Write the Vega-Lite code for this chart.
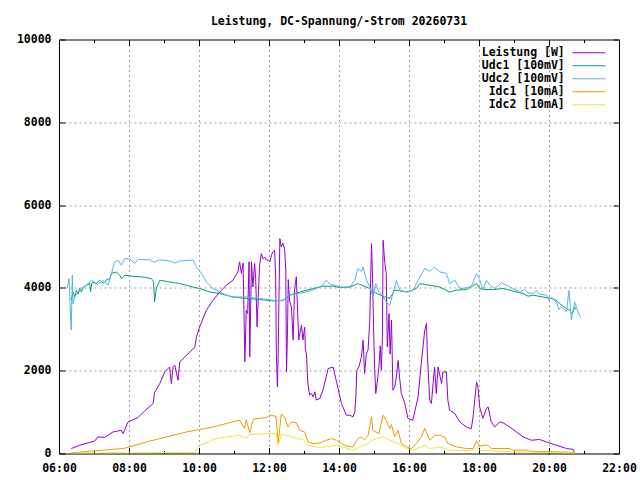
{
"$schema": "https://vega.github.io/schema/vega-lite/v6.json",
"width": 560, "height": 414,
"autosize": {"type": "none"},
"padding": {"left": 59, "top": 39.5, "right": 21, "bottom": 26.5},
"background": "white",
"config": {"view": {"stroke": "black", "strokeWidth": 1}, "font": "DejaVu Sans Mono"},
"title": {"text": "Leistung, DC-Spannung/-Strom 20260731", "font": "DejaVu Sans Mono", "fontSize": 11.5, "fontWeight": "bold", "color": "black", "offset": 6},
"data": {"values": [
{"t":6.35,"k":"P","v":120},{"t":6.59,"k":"P","v":200},{"t":7.02,"k":"P","v":300},{"t":7.11,"k":"P","v":400},{"t":7.31,"k":"P","v":390},{"t":7.54,"k":"P","v":520},{"t":7.78,"k":"P","v":560},{"t":7.83,"k":"P","v":480},{"t":7.97,"k":"P","v":760},{"t":8.26,"k":"P","v":870},{"t":8.35,"k":"P","v":950},{"t":8.69,"k":"P","v":1210},{"t":8.73,"k":"P","v":1470},{"t":8.88,"k":"P","v":1690},{"t":9.02,"k":"P","v":1970},{"t":9.16,"k":"P","v":2090},{"t":9.21,"k":"P","v":1690},{"t":9.26,"k":"P","v":2100},{"t":9.31,"k":"P","v":2130},{"t":9.40,"k":"P","v":1770},{"t":9.45,"k":"P","v":2210},{"t":9.88,"k":"P","v":2570},{"t":9.93,"k":"P","v":2820},{"t":10.02,"k":"P","v":3060},{"t":10.21,"k":"P","v":3460},{"t":10.40,"k":"P","v":3700},{"t":10.59,"k":"P","v":3900},{"t":10.78,"k":"P","v":4065},{"t":10.97,"k":"P","v":4185},{"t":11.11,"k":"P","v":4385},{"t":11.16,"k":"P","v":4630},{"t":11.21,"k":"P","v":4350},{"t":11.26,"k":"P","v":4600},{"t":11.31,"k":"P","v":2210},{"t":11.35,"k":"P","v":3460},{"t":11.39,"k":"P","v":3380},{"t":11.43,"k":"P","v":4630},{"t":11.45,"k":"P","v":2335},{"t":11.50,"k":"P","v":4630},{"t":11.54,"k":"P","v":4020},{"t":11.59,"k":"P","v":4590},{"t":11.62,"k":"P","v":4200},{"t":11.66,"k":"P","v":3060},{"t":11.73,"k":"P","v":4550},{"t":11.78,"k":"P","v":4830},{"t":11.83,"k":"P","v":4700},{"t":11.88,"k":"P","v":4740},{"t":11.93,"k":"P","v":4670},{"t":11.97,"k":"P","v":4670},{"t":12.02,"k":"P","v":4630},{"t":12.07,"k":"P","v":4790},{"t":12.11,"k":"P","v":4870},{"t":12.16,"k":"P","v":4910},{"t":12.19,"k":"P","v":4300},{"t":12.21,"k":"P","v":2415},{"t":12.24,"k":"P","v":1610},{"t":12.26,"k":"P","v":2300},{"t":12.31,"k":"P","v":5190},{"t":12.35,"k":"P","v":4990},{"t":12.40,"k":"P","v":5080},{"t":12.45,"k":"P","v":4910},{"t":12.48,"k":"P","v":4400},{"t":12.50,"k":"P","v":1970},{"t":12.53,"k":"P","v":3000},{"t":12.55,"k":"P","v":4200},{"t":12.59,"k":"P","v":3680},{"t":12.64,"k":"P","v":3540},{"t":12.69,"k":"P","v":2740},{"t":12.73,"k":"P","v":3950},{"t":12.78,"k":"P","v":4270},{"t":12.81,"k":"P","v":3600},{"t":12.85,"k":"P","v":2740},{"t":12.88,"k":"P","v":2900},{"t":12.93,"k":"P","v":3100},{"t":12.97,"k":"P","v":2740},{"t":13.02,"k":"P","v":3050},{"t":13.04,"k":"P","v":2500},{"t":13.07,"k":"P","v":2415},{"t":13.11,"k":"P","v":1690},{"t":13.16,"k":"P","v":1410},{"t":13.21,"k":"P","v":1450},{"t":13.26,"k":"P","v":1370},{"t":13.31,"k":"P","v":1490},{"t":13.35,"k":"P","v":1290},{"t":13.45,"k":"P","v":1330},{"t":13.54,"k":"P","v":1530},{"t":13.69,"k":"P","v":2050},{"t":13.83,"k":"P","v":2090},{"t":13.93,"k":"P","v":1730},{"t":14.07,"k":"P","v":1210},{"t":14.21,"k":"P","v":925},{"t":14.31,"k":"P","v":925},{"t":14.40,"k":"P","v":885},{"t":14.45,"k":"P","v":1000},{"t":14.48,"k":"P","v":1330},{"t":14.51,"k":"P","v":2010},{"t":14.57,"k":"P","v":2090},{"t":14.64,"k":"P","v":2335},{"t":14.69,"k":"P","v":2740},{"t":14.73,"k":"P","v":1930},{"t":14.78,"k":"P","v":2400},{"t":14.83,"k":"P","v":2500},{"t":14.88,"k":"P","v":3220},{"t":14.91,"k":"P","v":4430},{"t":14.93,"k":"P","v":5070},{"t":14.96,"k":"P","v":4200},{"t":14.99,"k":"P","v":2980},{"t":15.02,"k":"P","v":2010},{"t":15.05,"k":"P","v":1450},{"t":15.09,"k":"P","v":1700},{"t":15.14,"k":"P","v":2090},{"t":15.18,"k":"P","v":2600},{"t":15.21,"k":"P","v":2010},{"t":15.24,"k":"P","v":2800},{"t":15.26,"k":"P","v":5150},{"t":15.31,"k":"P","v":4590},{"t":15.35,"k":"P","v":4350},{"t":15.38,"k":"P","v":2575},{"t":15.43,"k":"P","v":3380},{"t":15.46,"k":"P","v":2400},{"t":15.50,"k":"P","v":3220},{"t":15.54,"k":"P","v":1530},{"t":15.59,"k":"P","v":1600},{"t":15.64,"k":"P","v":1850},{"t":15.69,"k":"P","v":2250},{"t":15.73,"k":"P","v":1850},{"t":15.78,"k":"P","v":1450},{"t":15.83,"k":"P","v":1330},{"t":15.88,"k":"P","v":1210},{"t":15.97,"k":"P","v":845},{"t":16.11,"k":"P","v":805},{"t":16.26,"k":"P","v":1370},{"t":16.35,"k":"P","v":2170},{"t":16.45,"k":"P","v":2980},{"t":16.50,"k":"P","v":3140},{"t":16.52,"k":"P","v":2500},{"t":16.59,"k":"P","v":1290},{"t":16.64,"k":"P","v":1210},{"t":16.73,"k":"P","v":2090},{"t":16.78,"k":"P","v":1450},{"t":16.83,"k":"P","v":2090},{"t":16.93,"k":"P","v":1690},{"t":16.97,"k":"P","v":1970},{"t":17.07,"k":"P","v":1970},{"t":17.11,"k":"P","v":1290},{"t":17.16,"k":"P","v":1045},{"t":17.31,"k":"P","v":965},{"t":17.45,"k":"P","v":765},{"t":17.64,"k":"P","v":640},{"t":17.78,"k":"P","v":600},{"t":17.83,"k":"P","v":885},{"t":17.93,"k":"P","v":1730},{"t":17.97,"k":"P","v":1600},{"t":18.02,"k":"P","v":1125},{"t":18.11,"k":"P","v":845},{"t":18.21,"k":"P","v":1085},{"t":18.26,"k":"P","v":1125},{"t":18.35,"k":"P","v":765},{"t":18.45,"k":"P","v":640},{"t":18.59,"k":"P","v":765},{"t":18.69,"k":"P","v":740},{"t":18.88,"k":"P","v":640},{"t":19.07,"k":"P","v":520},{"t":19.26,"k":"P","v":400},{"t":19.50,"k":"P","v":320},{"t":19.73,"k":"P","v":340},{"t":19.97,"k":"P","v":265},{"t":20.21,"k":"P","v":200},{"t":20.50,"k":"P","v":120},{"t":20.69,"k":"P","v":100},{"t":20.73,"k":"P","v":15},
{"t":6.35,"k":"U1","v":3700},{"t":6.40,"k":"U1","v":3900},{"t":6.45,"k":"U1","v":3780},{"t":6.50,"k":"U1","v":3945},{"t":6.55,"k":"U1","v":3850},{"t":6.59,"k":"U1","v":3985},{"t":6.64,"k":"U1","v":3900},{"t":6.69,"k":"U1","v":4010},{"t":6.78,"k":"U1","v":4060},{"t":6.88,"k":"U1","v":4105},{"t":6.90,"k":"U1","v":3900},{"t":6.93,"k":"U1","v":4100},{"t":6.97,"k":"U1","v":4145},{"t":7.05,"k":"U1","v":4100},{"t":7.16,"k":"U1","v":4185},{"t":7.26,"k":"U1","v":4120},{"t":7.35,"k":"U1","v":4185},{"t":7.45,"k":"U1","v":4230},{"t":7.50,"k":"U1","v":4350},{"t":7.64,"k":"U1","v":4385},{"t":7.74,"k":"U1","v":4300},{"t":7.78,"k":"U1","v":4225},{"t":7.88,"k":"U1","v":4305},{"t":8.11,"k":"U1","v":4280},{"t":8.40,"k":"U1","v":4265},{"t":8.64,"k":"U1","v":4225},{"t":8.70,"k":"U1","v":4150},{"t":8.73,"k":"U1","v":3660},{"t":8.78,"k":"U1","v":3985},{"t":8.88,"k":"U1","v":4185},{"t":9.16,"k":"U1","v":4145},{"t":9.45,"k":"U1","v":4105},{"t":9.73,"k":"U1","v":4040},{"t":10.02,"k":"U1","v":3985},{"t":10.31,"k":"U1","v":3900},{"t":10.59,"k":"U1","v":3865},{"t":10.97,"k":"U1","v":3780},{"t":11.35,"k":"U1","v":3745},{"t":11.73,"k":"U1","v":3720},{"t":12.11,"k":"U1","v":3685},{"t":12.40,"k":"U1","v":3700},{"t":12.59,"k":"U1","v":3825},{"t":12.88,"k":"U1","v":3900},{"t":13.26,"k":"U1","v":3985},{"t":13.54,"k":"U1","v":4040},{"t":13.83,"k":"U1","v":4040},{"t":14.02,"k":"U1","v":4010},{"t":14.31,"k":"U1","v":4020},{"t":14.54,"k":"U1","v":4105},{"t":14.88,"k":"U1","v":3985},{"t":14.99,"k":"U1","v":3900},{"t":15.31,"k":"U1","v":3780},{"t":15.45,"k":"U1","v":3745},{"t":15.59,"k":"U1","v":3945},{"t":15.73,"k":"U1","v":3930},{"t":15.97,"k":"U1","v":3900},{"t":16.21,"k":"U1","v":3985},{"t":16.31,"k":"U1","v":4105},{"t":16.59,"k":"U1","v":4065},{"t":16.88,"k":"U1","v":4020},{"t":17.16,"k":"U1","v":3900},{"t":17.35,"k":"U1","v":3945},{"t":17.64,"k":"U1","v":3960},{"t":17.93,"k":"U1","v":4105},{"t":18.02,"k":"U1","v":3985},{"t":18.11,"k":"U1","v":3960},{"t":18.40,"k":"U1","v":3960},{"t":18.69,"k":"U1","v":3985},{"t":18.97,"k":"U1","v":3925},{"t":19.26,"k":"U1","v":3865},{"t":19.40,"k":"U1","v":3800},{"t":19.54,"k":"U1","v":3825},{"t":19.83,"k":"U1","v":3780},{"t":20.07,"k":"U1","v":3745},{"t":20.20,"k":"U1","v":3700},{"t":20.31,"k":"U1","v":3620},{"t":20.40,"k":"U1","v":3560},{"t":20.50,"k":"U1","v":3500},{"t":20.59,"k":"U1","v":3460},{"t":20.66,"k":"U1","v":3380},{"t":20.73,"k":"U1","v":3540},{"t":20.76,"k":"U1","v":3480},
{"t":6.23,"k":"U2","v":3985},{"t":6.29,"k":"U2","v":4225},{"t":6.33,"k":"U2","v":3300},{"t":6.35,"k":"U2","v":2980},{"t":6.38,"k":"U2","v":4305},{"t":6.40,"k":"U2","v":3620},{"t":6.45,"k":"U2","v":3800},{"t":6.54,"k":"U2","v":3865},{"t":6.64,"k":"U2","v":3985},{"t":6.78,"k":"U2","v":4065},{"t":6.93,"k":"U2","v":4185},{"t":7.10,"k":"U2","v":4080},{"t":7.26,"k":"U2","v":4185},{"t":7.40,"k":"U2","v":4065},{"t":7.50,"k":"U2","v":4350},{"t":7.59,"k":"U2","v":4630},{"t":7.69,"k":"U2","v":4670},{"t":7.78,"k":"U2","v":4550},{"t":7.88,"k":"U2","v":4710},{"t":8.02,"k":"U2","v":4700},{"t":8.16,"k":"U2","v":4590},{"t":8.26,"k":"U2","v":4685},{"t":8.59,"k":"U2","v":4680},{"t":8.70,"k":"U2","v":4620},{"t":8.88,"k":"U2","v":4680},{"t":9.16,"k":"U2","v":4650},{"t":9.30,"k":"U2","v":4600},{"t":9.45,"k":"U2","v":4650},{"t":9.83,"k":"U2","v":4670},{"t":9.93,"k":"U2","v":4505},{"t":10.07,"k":"U2","v":4350},{"t":10.21,"k":"U2","v":4145},{"t":10.40,"k":"U2","v":3985},{"t":10.59,"k":"U2","v":3900},{"t":10.78,"k":"U2","v":3825},{"t":10.97,"k":"U2","v":3780},{"t":11.35,"k":"U2","v":3780},{"t":11.73,"k":"U2","v":3745},{"t":12.11,"k":"U2","v":3700},{"t":12.40,"k":"U2","v":3690},{"t":12.59,"k":"U2","v":3825},{"t":12.88,"k":"U2","v":3870},{"t":13.26,"k":"U2","v":3945},{"t":13.54,"k":"U2","v":4065},{"t":13.64,"k":"U2","v":4185},{"t":13.73,"k":"U2","v":4100},{"t":14.02,"k":"U2","v":4020},{"t":14.31,"k":"U2","v":4020},{"t":14.45,"k":"U2","v":4185},{"t":14.54,"k":"U2","v":4470},{"t":14.64,"k":"U2","v":4400},{"t":14.69,"k":"U2","v":4505},{"t":14.78,"k":"U2","v":4200},{"t":14.88,"k":"U2","v":4020},{"t":14.97,"k":"U2","v":3780},{"t":15.05,"k":"U2","v":4100},{"t":15.14,"k":"U2","v":3900},{"t":15.21,"k":"U2","v":3850},{"t":15.35,"k":"U2","v":3660},{"t":15.45,"k":"U2","v":3580},{"t":15.54,"k":"U2","v":3865},{"t":15.64,"k":"U2","v":4185},{"t":15.73,"k":"U2","v":3950},{"t":15.93,"k":"U2","v":3900},{"t":16.11,"k":"U2","v":3945},{"t":16.31,"k":"U2","v":4265},{"t":16.45,"k":"U2","v":4470},{"t":16.59,"k":"U2","v":4400},{"t":16.73,"k":"U2","v":4505},{"t":16.88,"k":"U2","v":4385},{"t":17.07,"k":"U2","v":4350},{"t":17.16,"k":"U2","v":4105},{"t":17.31,"k":"U2","v":4185},{"t":17.45,"k":"U2","v":3985},{"t":17.64,"k":"U2","v":4000},{"t":17.78,"k":"U2","v":4030},{"t":17.93,"k":"U2","v":4350},{"t":18.02,"k":"U2","v":4200},{"t":18.11,"k":"U2","v":3960},{"t":18.21,"k":"U2","v":4185},{"t":18.31,"k":"U2","v":4065},{"t":18.45,"k":"U2","v":3985},{"t":18.64,"k":"U2","v":4120},{"t":18.78,"k":"U2","v":4065},{"t":18.97,"k":"U2","v":3985},{"t":19.16,"k":"U2","v":3900},{"t":19.30,"k":"U2","v":3960},{"t":19.40,"k":"U2","v":3880},{"t":19.54,"k":"U2","v":3865},{"t":19.65,"k":"U2","v":3930},{"t":19.73,"k":"U2","v":3850},{"t":19.93,"k":"U2","v":3825},{"t":20.00,"k":"U2","v":3700},{"t":20.07,"k":"U2","v":3780},{"t":20.21,"k":"U2","v":3660},{"t":20.28,"k":"U2","v":3480},{"t":20.35,"k":"U2","v":3540},{"t":20.50,"k":"U2","v":3420},{"t":20.57,"k":"U2","v":3945},{"t":20.64,"k":"U2","v":3220},{"t":20.73,"k":"U2","v":3660},{"t":20.83,"k":"U2","v":3420},{"t":20.90,"k":"U2","v":3285},
{"t":6.35,"k":"I1","v":15},{"t":6.88,"k":"I1","v":55},{"t":7.45,"k":"I1","v":95},{"t":7.83,"k":"I1","v":120},{"t":8.02,"k":"I1","v":160},{"t":8.50,"k":"I1","v":280},{"t":8.88,"k":"I1","v":360},{"t":9.26,"k":"I1","v":440},{"t":9.64,"k":"I1","v":520},{"t":10.02,"k":"I1","v":580},{"t":10.40,"k":"I1","v":640},{"t":10.78,"k":"I1","v":725},{"t":11.16,"k":"I1","v":805},{"t":11.30,"k":"I1","v":600},{"t":11.35,"k":"I1","v":820},{"t":11.45,"k":"I1","v":500},{"t":11.55,"k":"I1","v":830},{"t":11.93,"k":"I1","v":870},{"t":12.02,"k":"I1","v":925},{"t":12.20,"k":"I1","v":900},{"t":12.26,"k":"I1","v":240},{"t":12.35,"k":"I1","v":950},{"t":12.45,"k":"I1","v":880},{"t":12.54,"k":"I1","v":640},{"t":12.64,"k":"I1","v":765},{"t":12.78,"k":"I1","v":740},{"t":12.88,"k":"I1","v":560},{"t":13.02,"k":"I1","v":520},{"t":13.11,"k":"I1","v":280},{"t":13.26,"k":"I1","v":240},{"t":13.45,"k":"I1","v":255},{"t":13.64,"k":"I1","v":320},{"t":13.78,"k":"I1","v":360},{"t":13.93,"k":"I1","v":320},{"t":14.07,"k":"I1","v":240},{"t":14.21,"k":"I1","v":175},{"t":14.40,"k":"I1","v":160},{"t":14.54,"k":"I1","v":360},{"t":14.64,"k":"I1","v":400},{"t":14.73,"k":"I1","v":330},{"t":14.83,"k":"I1","v":440},{"t":14.93,"k":"I1","v":885},{"t":14.97,"k":"I1","v":560},{"t":15.14,"k":"I1","v":480},{"t":15.26,"k":"I1","v":925},{"t":15.35,"k":"I1","v":805},{"t":15.45,"k":"I1","v":600},{"t":15.50,"k":"I1","v":700},{"t":15.59,"k":"I1","v":400},{"t":15.69,"k":"I1","v":560},{"t":15.78,"k":"I1","v":240},{"t":15.93,"k":"I1","v":160},{"t":16.07,"k":"I1","v":120},{"t":16.21,"k":"I1","v":240},{"t":16.35,"k":"I1","v":400},{"t":16.45,"k":"I1","v":605},{"t":16.50,"k":"I1","v":500},{"t":16.59,"k":"I1","v":320},{"t":16.73,"k":"I1","v":440},{"t":16.88,"k":"I1","v":440},{"t":17.02,"k":"I1","v":400},{"t":17.11,"k":"I1","v":240},{"t":17.35,"k":"I1","v":160},{"t":17.64,"k":"I1","v":120},{"t":17.83,"k":"I1","v":120},{"t":17.93,"k":"I1","v":305},{"t":18.02,"k":"I1","v":175},{"t":18.11,"k":"I1","v":200},{"t":18.26,"k":"I1","v":200},{"t":18.35,"k":"I1","v":120},{"t":18.88,"k":"I1","v":120},{"t":18.97,"k":"I1","v":80},{"t":19.40,"k":"I1","v":80},{"t":19.45,"k":"I1","v":55},{"t":20.59,"k":"I1","v":30},{"t":20.75,"k":"I1","v":25},
{"t":6.35,"k":"I2","v":10},{"t":7.50,"k":"I2","v":15},{"t":8.50,"k":"I2","v":20},{"t":9.90,"k":"I2","v":30},{"t":9.93,"k":"I2","v":120},{"t":10.02,"k":"I2","v":200},{"t":10.31,"k":"I2","v":290},{"t":10.40,"k":"I2","v":340},{"t":10.78,"k":"I2","v":400},{"t":11.16,"k":"I2","v":440},{"t":11.35,"k":"I2","v":360},{"t":11.45,"k":"I2","v":460},{"t":11.93,"k":"I2","v":480},{"t":12.20,"k":"I2","v":480},{"t":12.26,"k":"I2","v":200},{"t":12.35,"k":"I2","v":460},{"t":12.59,"k":"I2","v":420},{"t":12.78,"k":"I2","v":360},{"t":12.97,"k":"I2","v":340},{"t":13.11,"k":"I2","v":200},{"t":13.45,"k":"I2","v":145},{"t":13.73,"k":"I2","v":175},{"t":13.93,"k":"I2","v":200},{"t":14.11,"k":"I2","v":160},{"t":14.40,"k":"I2","v":80},{"t":14.59,"k":"I2","v":160},{"t":14.83,"k":"I2","v":240},{"t":14.93,"k":"I2","v":320},{"t":15.26,"k":"I2","v":400},{"t":15.45,"k":"I2","v":320},{"t":15.69,"k":"I2","v":240},{"t":15.93,"k":"I2","v":120},{"t":16.11,"k":"I2","v":80},{"t":16.45,"k":"I2","v":200},{"t":16.59,"k":"I2","v":120},{"t":16.88,"k":"I2","v":160},{"t":17.16,"k":"I2","v":80},{"t":17.83,"k":"I2","v":65},{"t":17.93,"k":"I2","v":160},{"t":18.02,"k":"I2","v":80},{"t":18.31,"k":"I2","v":65},{"t":18.97,"k":"I2","v":40},{"t":20.59,"k":"I2","v":15},{"t":20.75,"k":"I2","v":10}
]},
"layer": [
{
"mark": {"type": "line", "strokeWidth": 1, "clip": true},
"encoding": {
"x": {"field": "t", "type": "quantitative", "title": null,
"scale": {"domain": [6, 22], "nice": false, "zero": false},
"axis": {"orient": "bottom", "values": [6,7,8,9,10,11,12,13,14,15,16,17,18,19,20,21,22],
"labelExpr": "datum.value % 2 == 0 ? (datum.value < 10 ? '0' : '') + datum.value + ':00' : ''",
"labelFont": "DejaVu Sans Mono", "labelFontSize": 11.5, "labelFontWeight": "bold", "labelColor": "black",
"labelPadding": 14.5, "labelBaseline": "top", "labelFlush": false, "labelOverlap": false,
"domain": false, "tickColor": "black",
"tickSize": {"condition": {"test": "datum.value % 2 == 0", "value": -6}, "value": -3},
"grid": true, "gridColor": "#a0a0a0", "gridDash": [2, 3],
"gridOpacity": {"condition": {"test": "datum.value % 2 == 0 && datum.value > 6 && datum.value < 22", "value": 1}, "value": 0}}},
"y": {"field": "v", "type": "quantitative", "title": null,
"scale": {"domain": [0, 10000], "nice": false},
"axis": {"orient": "left", "values": [0,2000,4000,6000,8000,10000], "format": "d",
"labelFont": "DejaVu Sans Mono", "labelFontSize": 11.5, "labelFontWeight": "bold", "labelColor": "black",
"labelPadding": 14, "labelFlush": false, "labelOverlap": false,
"domain": false, "tickColor": "black", "tickSize": -6,
"grid": true, "gridColor": "#a0a0a0", "gridDash": [2, 3],
"gridOpacity": {"condition": {"test": "datum.value > 0 && datum.value < 10000", "value": 1}, "value": 0}}},
"color": {"field": "k", "type": "nominal",
"scale": {"domain": ["P", "U1", "U2", "I1", "I2"], "range": ["#9400d3", "#009e73", "#56b4e9", "#e69f00", "#f0e442"]},
"legend": {"orient": "none", "legendX": 524.2, "legendY": 7.5, "title": null, "padding": 0,
"symbolType": "M-3.3,0H3.3", "symbolSize": 100, "symbolStrokeWidth": 1, "symbolOpacity": 1, "symbolFillColor": "transparent", "rowPadding": 0,
"labelAlign": "right", "labelOffset": -29.9,
"labelFont": "DejaVu Sans Mono", "labelFontSize": 11.5, "labelFontWeight": "bold", "labelColor": "black",
"labelExpr": "datum.label == 'P' ? 'Leistung [W]' : datum.label == 'U1' ? 'Udc1 [100mV]' : datum.label == 'U2' ? 'Udc2 [100mV]' : datum.label == 'I1' ? 'Idc1 [10mA]' : 'Idc2 [10mA]'"}}
}
},
{
"mark": {"type": "line", "strokeOpacity": 0},
"encoding": {
"x": {"field": "t", "type": "quantitative", "title": null,
"axis": {"orient": "top", "values": [6,7,8,9,10,11,12,13,14,15,16,17,18,19,20,21,22], "labels": false, "domain": false, "grid": false, "tickColor": "black",
"tickSize": {"condition": {"test": "datum.value % 2 == 0", "value": -6}, "value": -3}}},
"y": {"field": "v", "type": "quantitative", "title": null,
"axis": {"orient": "right", "values": [0,2000,4000,6000,8000,10000], "labels": false, "domain": false, "grid": false, "tickColor": "black", "tickSize": -6}},
"detail": {"field": "k"}
}
}
],
"resolve": {"axis": {"x": "independent", "y": "independent"}}
}
